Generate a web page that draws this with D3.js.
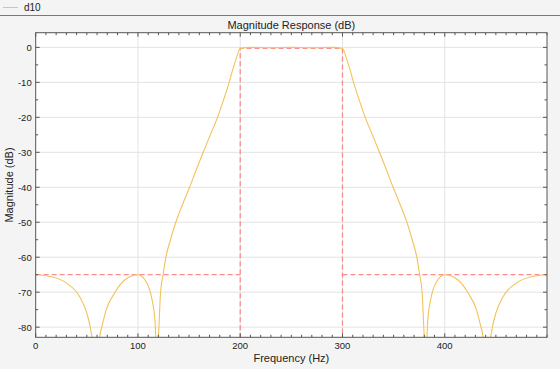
<!DOCTYPE html>
<html>
<head>
<meta charset="utf-8">
<script src="https://cdn.jsdelivr.net/npm/d3@7"></script>
<style>
  body { margin: 0; background: #f4f4f4; }
  svg { display: block; font-family: "Liberation Sans", Arial, sans-serif; }
</style>
</head>
<body>
<div id="main"></div>
<script>
// frequency response of filter d10
var freqHz = [0, 14, 30, 43, 50, 54, 57, 58.7, 60.5, 63, 65, 69, 77, 87, 100, 108, 114, 116.6, 117.8, 118.5, 119.3, 120.5, 122.1, 124.6,
  127.3, 131.8, 137, 143.5, 150.5, 157, 163.8, 170.8, 177.8, 183.7, 189.2, 193, 196.3, 198.5, 200, 210, 230, 250, 270, 290,
  300, 301.5, 303.7, 307, 310.8, 316.3, 322.2, 329.2, 336.2, 343, 349.5, 356.5, 363, 368.2, 372.7, 375.4, 377.9, 379.5, 380.7, 381.5, 382.2, 383.4,
  386, 392, 400, 413, 423, 431, 435, 437, 439.5, 441.3, 443, 446, 450, 457, 470, 486, 500];
var magDb = [-65, -65.5, -67.4, -71.3, -76, -81, -88, -110, -90, -82, -79.5, -75, -70.3, -66.5, -65, -67, -72.5, -78, -88, -110, -88, -80, -70, -65,
  -60, -55, -50, -45, -40, -35, -30, -25, -20, -15, -10, -6, -3, -1, -0.3, 0, -0.1, 0, -0.1, 0,
  -0.3, -1, -3, -6, -10, -15, -20, -25, -30, -35, -40, -45, -50, -55, -60, -65, -70, -80, -88, -110, -88, -78,
  -72.5, -67, -65, -66.5, -70.3, -75, -79.5, -82, -90, -110, -88, -81, -76, -71.3, -67.4, -65.5, -65];

// design mask (dashed)
var maskLines = [
  [[0, -65], [200, -65]],
  [[200, -90], [200, -0.3], [300, -0.3], [300, -90]],
  [[300, -65], [500, -65]]
];

var xTicks = [0, 100, 200, 300, 400];
var yTicks = [0, -10, -20, -30, -40, -50, -60, -70, -80];
var xMinor = d3.range(0, 501, 10);
var yMinor = d3.range(-80, 1, 5);

var ctx = { w: 560, h: 369, left: 35.7, top: 32.7, right: 547, bottom: 337.3 };

var createViz = function() {
  var svg = d3.select("#main").append("svg").attr("width", ctx.w).attr("height", ctx.h);
  svg.append("rect").attr("width", ctx.w).attr("height", ctx.h).attr("fill", "#f4f4f4");

  // legend bar
  svg.append("line").attr("x1", 0).attr("x2", ctx.w).attr("y1", 15.5).attr("y2", 15.5)
    .attr("stroke", "#7a7a7a").attr("stroke-width", 1);
  svg.append("line").attr("x1", 3).attr("x2", 18).attr("y1", 7.5).attr("y2", 7.5)
    .attr("stroke", "#f3c25a").attr("stroke-width", 1);
  svg.append("text").attr("x", 24).attr("y", 11).attr("font-size", 10).attr("fill", "#222").text("d10");

  var x = d3.scaleLinear().domain([0, 500]).range([ctx.left, ctx.right]);
  var y = d3.scaleLinear().domain([-82.9, 4.2]).range([ctx.bottom, ctx.top]);

  svg.append("rect").attr("x", ctx.left).attr("y", ctx.top)
    .attr("width", ctx.right - ctx.left).attr("height", ctx.bottom - ctx.top).attr("fill", "#fff");

  // grid
  var grid = svg.append("g").attr("stroke", "#e3e3e3").attr("stroke-width", 1);
  xTicks.filter(d => d > 0).forEach(d => {
    grid.append("line").attr("x1", x(d)).attr("x2", x(d)).attr("y1", ctx.top).attr("y2", ctx.bottom);
  });
  yTicks.forEach(d => {
    grid.append("line").attr("x1", ctx.left).attr("x2", ctx.right).attr("y1", y(d)).attr("y2", y(d));
  });

  svg.append("clipPath").attr("id", "clip").append("rect")
    .attr("x", ctx.left).attr("y", ctx.top).attr("width", ctx.right - ctx.left).attr("height", ctx.bottom - ctx.top);
  var plot = svg.append("g").attr("clip-path", "url(#clip)");

  var line = d3.line().x(d => x(d[0])).y(d => y(d[1]));
  maskLines.forEach(seg => {
    plot.append("path").attr("d", line(seg)).attr("fill", "none")
      .attr("stroke", "#ff7b7b").attr("stroke-opacity", 0.85).attr("stroke-width", 1.3)
      .attr("stroke-dasharray", "5,3");
  });

  var pts = freqHz.map((f, i) => [f, magDb[i]]);
  plot.append("path").attr("d", line.curve(d3.curveMonotoneX)(pts)).attr("fill", "none")
    .attr("stroke", "#f3c25a").attr("stroke-width", 1.1);

  // axes with inward ticks
  var axG = svg.append("g").attr("stroke", "#555").attr("stroke-width", 1);
  xMinor.forEach(d => {
    var len = xTicks.indexOf(d) >= 0 ? 4 : 2.5;
    axG.append("line").attr("x1", x(d)).attr("x2", x(d)).attr("y1", ctx.bottom).attr("y2", ctx.bottom - len);
    axG.append("line").attr("x1", x(d)).attr("x2", x(d)).attr("y1", ctx.top).attr("y2", ctx.top + len);
  });
  yMinor.forEach(d => {
    var len = yTicks.indexOf(d) >= 0 ? 4 : 2.5;
    axG.append("line").attr("x1", ctx.left).attr("x2", ctx.left + len).attr("y1", y(d)).attr("y2", y(d));
    axG.append("line").attr("x1", ctx.right).attr("x2", ctx.right - len).attr("y1", y(d)).attr("y2", y(d));
  });
  axG.append("rect").attr("x", ctx.left).attr("y", ctx.top)
    .attr("width", ctx.right - ctx.left).attr("height", ctx.bottom - ctx.top).attr("fill", "none");

  // tick labels
  var lab = svg.append("g").attr("font-size", 9.5).attr("fill", "#222");
  xTicks.forEach(d => {
    lab.append("text").attr("x", x(d)).attr("y", ctx.bottom + 12).attr("text-anchor", "middle").text(d);
  });
  yTicks.forEach(d => {
    lab.append("text").attr("x", ctx.left - 4).attr("y", y(d) + 3.5).attr("text-anchor", "end").text(d);
  });

  svg.append("text").attr("x", (ctx.left + ctx.right) / 2).attr("y", 28.5).attr("text-anchor", "middle")
    .attr("font-size", 11).attr("fill", "#222").text("Magnitude Response (dB)");
  svg.append("text").attr("x", (ctx.left + ctx.right) / 2).attr("y", 362).attr("text-anchor", "middle")
    .attr("font-size", 11).attr("fill", "#222").text("Frequency (Hz)");
  svg.append("text").attr("transform", `translate(13,${(ctx.top + ctx.bottom) / 2}) rotate(-90)`)
    .attr("text-anchor", "middle").attr("font-size", 11).attr("fill", "#222").text("Magnitude (dB)");
};

createViz();
</script>
</body>
</html>
